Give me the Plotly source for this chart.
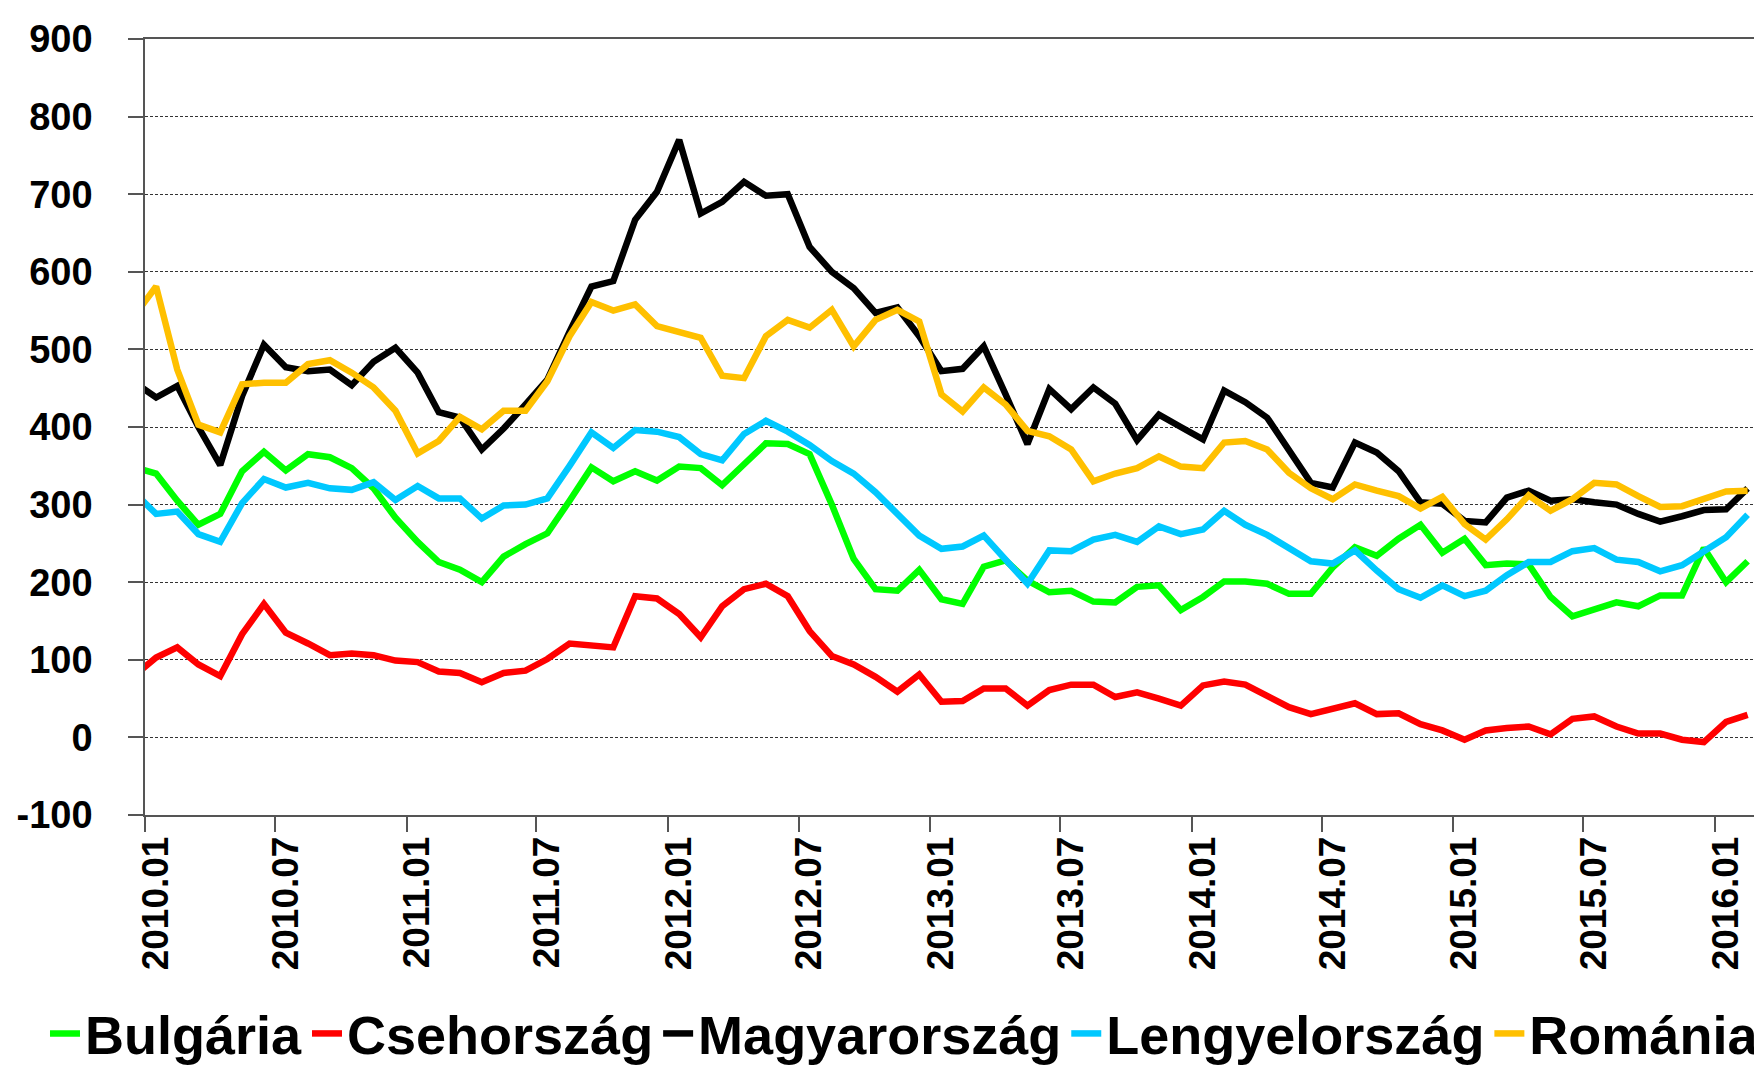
import pandas as pd
import plotly.graph_objects as go

# Monthly observations (2009.12 is only partly visible at the left edge)
months = [p.strftime("%Y.%m") for p in pd.period_range("2009-12", "2016-02", freq="M")]

bulgaria = [348, 340, 305, 274, 288, 343, 368, 344, 365, 361, 347, 321, 283, 252, 226, 216, 200, 233, 249, 263,
            305, 348, 330, 343, 331, 349, 347, 325, 352, 379, 378, 365, 300, 230, 191, 189, 216, 178, 172, 220,
            228, 202, 187, 189, 175, 174, 194, 196, 164, 181, 201, 201, 198, 185, 185, 219, 245, 234, 256, 274,
            238, 256, 222, 224, 223, 181, 156, 166, 174, 169, 183, 183, 244, 200, 227]
csehorszag = [79, 103, 116, 94, 79, 133, 172, 135, 121, 106, 108, 106, 99, 97, 85, 83, 71, 83, 86, 101,
              121, 119, 116, 182, 179, 159, 129, 169, 191, 198, 182, 137, 105, 94, 78, 59, 81, 46, 47, 63,
              63, 41, 61, 68, 68, 52, 58, 50, 41, 67, 72, 68, 54, 39, 30, 38, 44, 30, 31, 17,
              9, -3, 9, 12, 14, 4, 24, 27, 14, 5, 5, -3, -6, 20, 29]
magyarorszag = [458, 438, 453, 400, 351, 440, 506, 477, 472, 474, 454, 484, 502, 470, 419, 412, 371, 398, 429, 461,
                523, 581, 588, 667, 703, 770, 675, 690, 716, 698, 700, 632, 600, 579, 547, 554, 517, 472, 475, 504,
                442, 378, 449, 423, 451, 430, 383, 416, 400, 384, 447, 432, 412, 371, 328, 322, 380, 367, 343, 303,
                301, 279, 277, 309, 318, 305, 307, 303, 300, 288, 278, 285, 293, 294, 321]
lengyelorszag = [316, 288, 291, 262, 252, 302, 333, 322, 328, 321, 319, 329, 306, 324, 308, 308, 282, 299, 300, 308,
                 350, 393, 373, 396, 394, 387, 365, 357, 391, 408, 394, 377, 356, 340, 316, 288, 260, 243, 246, 260,
                 230, 198, 241, 240, 255, 261, 252, 272, 262, 268, 292, 274, 261, 245, 227, 224, 241, 215, 191, 180,
                 196, 182, 189, 209, 226, 226, 240, 244, 229, 226, 214, 222, 240, 258, 287]
romania = [543, 581, 474, 403, 393, 455, 457, 457, 481, 486, 470, 451, 421, 366, 382, 413, 397, 421, 421, 459,
           517, 561, 550, 558, 530, 523, 515, 466, 463, 517, 538, 528, 551, 504, 538, 551, 536, 442, 420, 451,
           429, 395, 388, 371, 330, 340, 347, 362, 349, 347, 380, 382, 371, 341, 321, 307, 326, 318, 311, 295,
           310, 275, 255, 281, 312, 292, 307, 328, 326, 311, 297, 298, 307, 317, 318]

series_names = ["Bulgária", "Csehország", "Magyarország", "Lengyelország", "Románia"]
series_values = [bulgaria, csehorszag, magyarorszag, lengyelorszag, romania]
series_colors = ["#00FF00", "#FF0000", "#000000", "#00C8FF", "#FFC000"]

y_tickvals = [-100, 0, 100, 200, 300, 400, 500, 600, 700, 800, 900]
y_ticktext = ["-100", "0", "100", "200", "300", "400", "500", "600", "700", "800", "900"]

# each monthly value sits in the middle of its month
def mid_month(m):
    start = pd.Timestamp(m.replace(".", "-") + "-01")
    end = start + pd.offsets.MonthBegin(1)
    return start + (end - start) / 2

x_dates = [mid_month(m) for m in months]

FONT = "Liberation Sans, Arial, sans-serif"
AXIS_COL = "#555555"

fig = go.Figure()
for name, vals, col in zip(series_names, series_values, series_colors):
    fig.add_trace(go.Scatter(x=x_dates, y=vals, mode="lines", name=name,
                             line=dict(color=col, width=6.5)))

fig.update_layout(
    width=1762, height=1065,
    margin=dict(l=137, r=12, t=31, b=258, autoexpand=False),
    paper_bgcolor="white", plot_bgcolor="white",
    showlegend=True,
    legend=dict(orientation="h", x=-0.062, xanchor="left", y=-0.282, yanchor="middle",
                font=dict(family=FONT, size=54, color="black", weight="bold"),
                itemwidth=30, tracegroupgap=0, bgcolor="rgba(0,0,0,0)"),
)

fig.update_xaxes(
    type="date", range=["2010-01-01", "2016-03-01"],
    tick0="2010-01-01", dtick="M6", tickformat="%Y.%m", ticklabelmode="period",
    tickangle=-90, ticks="outside", ticklen=15, tickwidth=1.5, tickcolor=AXIS_COL,
    showline=True, linecolor=AXIS_COL, linewidth=1.5, mirror=True,
    showgrid=False, zeroline=False, automargin=False,
    tickfont=dict(family=FONT, size=37, color="black", weight="bold"),
    ticklabelstandoff=-10,
)
fig.update_yaxes(
    range=[-100, 900], tickmode="array", tickvals=y_tickvals, ticktext=y_ticktext,
    showgrid=True, gridcolor="#333333", gridwidth=1, griddash="3px,2px",
    zeroline=False, ticks="outside", ticklen=15, tickwidth=1.5, tickcolor=AXIS_COL,
    showline=True, linecolor=AXIS_COL, linewidth=1.5, mirror=True, automargin=False,
    tickfont=dict(family=FONT, size=38, color="black", weight="bold"),
    ticklabelstandoff=28,
)

fig.write_html("out.html")
